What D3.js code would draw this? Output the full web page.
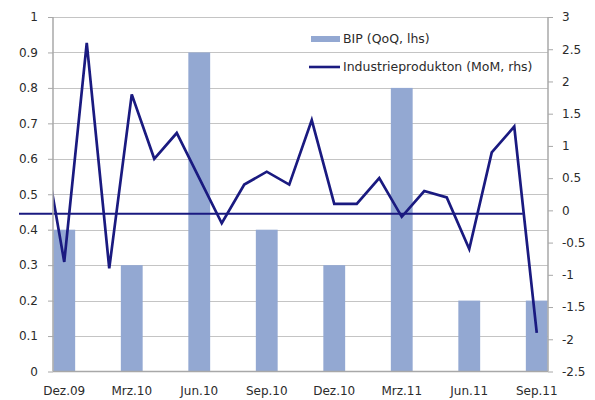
<!DOCTYPE html>
<html>
<head>
<meta charset="utf-8">
<script src="https://cdn.jsdelivr.net/npm/d3@7"></script>
<style>
  body { margin: 0; background: #fff; }
  text { font-family: "DejaVu Sans", sans-serif; fill: #2b2b2b; }
</style>
</head>
<body>
<div id="viz"></div>
<script>
var months = ['Dez.09','Jan.10','Feb.10','Mrz.10','Apr.10','Mai.10','Jun.10','Jul.10',
              'Aug.10','Sep.10','Okt.10','Nov.10','Dez.10','Jan.11','Feb.11','Mrz.11',
              'Apr.11','Mai.11','Jun.11','Jul.11','Aug.11','Sep.11'];
// Industrieproduktion MoM (rhs); ipPrev = Nov.09, only its tail is visible
var ipPrev = 1.2;
var ipValues = [-0.8, 2.6, -0.9, 1.8, 0.8, 1.2, 0.5, -0.2, 0.4, 0.6, 0.4,
                1.4, 0.1, 0.1, 0.5, -0.1, 0.3, 0.2, -0.6, 0.9, 1.3, -1.9];
var bipQuarters = ['Dez.09','Mrz.10','Jun.10','Sep.10','Dez.10','Mrz.11','Jun.11','Sep.11'];
var bipValues = [0.4, 0.3, 0.9, 0.4, 0.3, 0.8, 0.2, 0.2];
var leftTicks = [0, 0.1, 0.2, 0.3, 0.4, 0.5, 0.6, 0.7, 0.8, 0.9, 1];
var rightTicks = [-2.5, -2, -1.5, -1, -0.5, 0, 0.5, 1, 1.5, 2, 2.5, 3];
var refLevel = 0.445; // horizontal marker line (lhs)
var legendLabels = ['BIP (QoQ, lhs)', 'Industrieprodukton (MoM, rhs)'];

var width = 595, height = 400,
    margin = { top: 17, right: 47, bottom: 28.5, left: 53 },
    plotW = width - margin.left - margin.right,
    plotH = height - margin.top - margin.bottom;

var barColor = '#93a8d2', lineColor = '#1a1a80', gridColor = '#c4c4c4', axisColor = '#a8a8a8';

var xScale = d3.scaleBand().domain(months).range([0, plotW]).paddingInner(0.03).paddingOuter(0.015);
var yLeft = d3.scaleLinear().domain([0, 1]).range([plotH, 0]);
var yRight = d3.scaleLinear().domain([-2.5, 3]).range([plotH, 0]);

function xCenter(i) {
  return xScale(months[0]) + xScale.bandwidth() / 2 + i * xScale.step();
}

var svg = d3.select('#viz').append('svg')
  .attr('width', width).attr('height', height);

var chart = svg.append('g')
  .attr('transform', 'translate(' + margin.left + ',' + margin.top + ')');

svg.append('defs').append('clipPath').attr('id', 'plotclip')
  .append('rect').attr('x', 0).attr('y', -5).attr('width', plotW).attr('height', plotH + 10);

// gridlines
chart.append('g').selectAll('line').data(leftTicks.slice(1))
  .enter().append('line')
    .attr('x1', 0).attr('x2', plotW)
    .attr('y1', function(d) { return Math.round(yLeft(d)) + 0.5; })
    .attr('y2', function(d) { return Math.round(yLeft(d)) + 0.5; })
    .attr('stroke', gridColor).attr('stroke-width', 1.2);

// bars
chart.append('g').selectAll('rect').data(bipValues)
  .enter().append('rect')
    .attr('x', function(d, i) { return xScale(bipQuarters[i]); })
    .attr('width', xScale.bandwidth())
    .attr('y', function(d) { return yLeft(d); })
    .attr('height', function(d) { return plotH - yLeft(d); })
    .attr('fill', barColor);

// reference line
chart.append('line')
  .attr('x1', -34).attr('x2', xScale('Sep.11') - 3)
  .attr('y1', yLeft(refLevel)).attr('y2', yLeft(refLevel))
  .attr('stroke', lineColor).attr('stroke-width', 2);

// industrial production line
var linePts = [[xCenter(-1), yRight(ipPrev)]].concat(ipValues.map(function(v, i) {
  return [xCenter(i), yRight(v)];
}));
chart.append('path')
  .attr('d', d3.line()(linePts))
  .attr('clip-path', 'url(#plotclip)')
  .attr('fill', 'none')
  .attr('stroke', lineColor)
  .attr('stroke-width', 2.7)
  .attr('stroke-linejoin', 'miter');

// axes
var leftAxis = chart.append('g')
  .call(d3.axisLeft(yLeft).tickValues(leftTicks).tickSize(5).tickPadding(10)
    .tickFormat(function(d) { return String(d); }));
var rightAxis = chart.append('g')
  .attr('transform', 'translate(' + plotW + ',0)')
  .call(d3.axisRight(yRight).tickValues(rightTicks).tickSize(5).tickPadding(9)
    .tickFormat(function(d) { return String(d); }));
var bottomAxis = chart.append('g')
  .attr('transform', 'translate(0,' + plotH + ')')
  .call(d3.axisBottom(xScale).tickValues(bipQuarters).tickSize(0).tickPadding(15));

[leftAxis, rightAxis, bottomAxis].forEach(function(a) {
  a.select('.domain').attr('stroke', axisColor).attr('stroke-width', 1.5);
  a.selectAll('.tick line').attr('stroke', axisColor);
  a.selectAll('text').style('font-family', '"DejaVu Sans", sans-serif')
    .style('font-size', '12px').attr('fill', '#2b2b2b');
});
bottomAxis.select('.domain').attr('d', 'M0,0H' + plotW);
leftAxis.select('.domain').attr('d', 'M0,0V' + plotH);
rightAxis.select('.domain').attr('d', 'M0,0V' + plotH);

// legend
var legend = svg.append('g').attr('transform', 'translate(309,0)');
legend.append('rect').attr('x', 2).attr('y', 36).attr('width', 29).attr('height', 6).attr('fill', barColor);
legend.append('line').attr('x1', 0).attr('x2', 31).attr('y1', 67).attr('y2', 67)
  .attr('stroke', lineColor).attr('stroke-width', 2.6);
legend.selectAll('text.lg').data(legendLabels)
  .enter().append('text')
    .attr('class', 'lg')
    .attr('x', 34)
    .attr('y', function(d, i) { return 39 + i * 28; })
    .attr('dy', '0.35em')
    .style('font-size', '12.5px')
    .text(function(d) { return d; });
</script>
</body>
</html>
